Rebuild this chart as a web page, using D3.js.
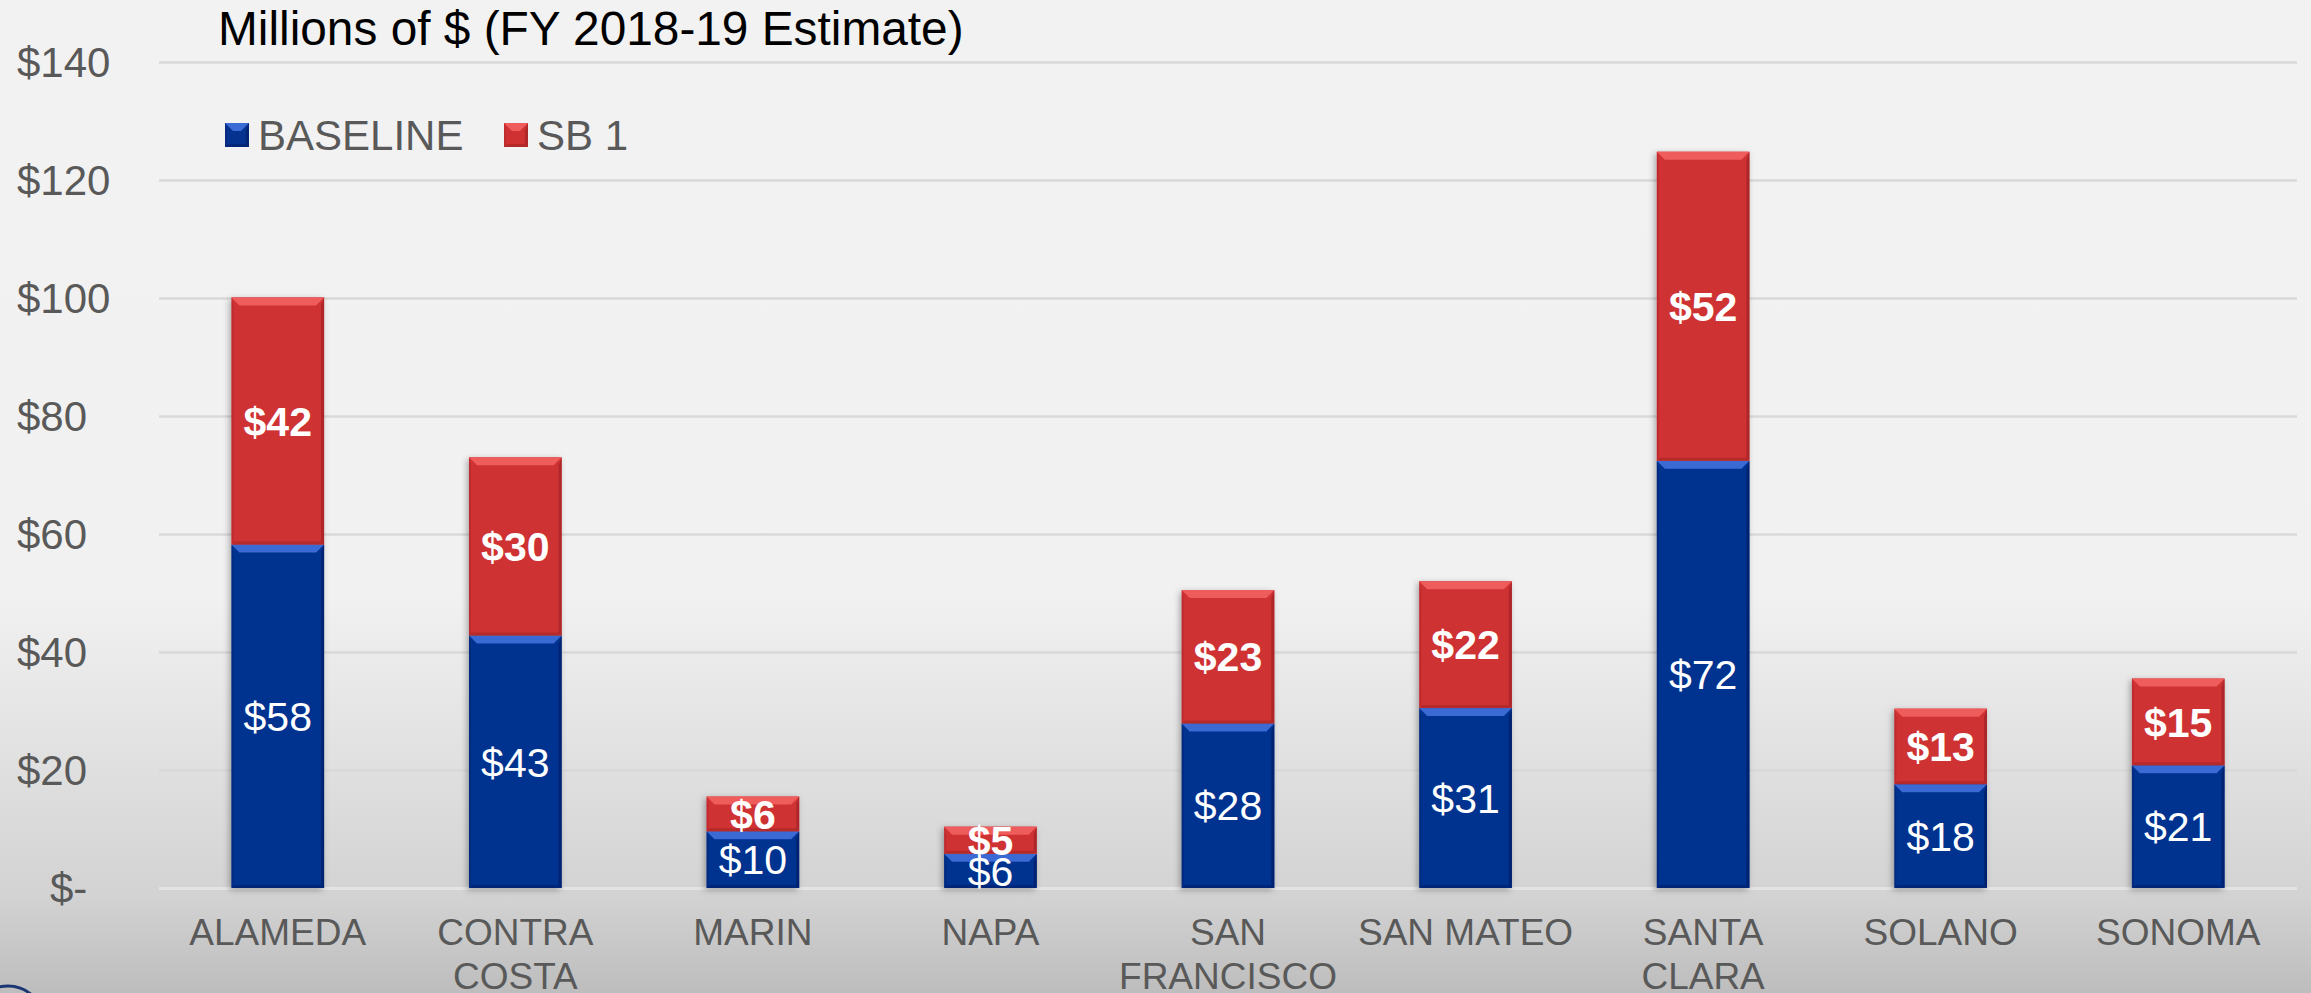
<!DOCTYPE html>
<html>
<head>
<meta charset="utf-8">
<script src="https://cdn.jsdelivr.net/npm/d3@7"></script>
<style>
  html, body { margin: 0; padding: 0; overflow: hidden; }
  svg { display: block; }
</style>
</head>
<body>
<svg id="chart" width="2311" height="993"></svg>
<script>
// ---- data ----
const categories = ["ALAMEDA", "CONTRA COSTA", "MARIN", "NAPA", "SAN FRANCISCO", "SAN MATEO", "SANTA CLARA", "SOLANO", "SONOMA"];
const categoryLines = [["ALAMEDA"], ["CONTRA", "COSTA"], ["MARIN"], ["NAPA"], ["SAN", "FRANCISCO"], ["SAN MATEO"], ["SANTA", "CLARA"], ["SOLANO"], ["SONOMA"]];
const baseline = [58.2, 42.8, 9.6, 5.8, 27.9, 30.5, 72.4, 17.6, 20.8];
const sb1 = [41.9, 30.2, 5.9, 4.6, 22.6, 21.5, 52.4, 12.8, 14.7];
const seriesNames = ["BASELINE", "SB 1"];
const yTicks = [0, 20, 40, 60, 80, 100, 120, 140];
const titleText = "Millions of $ (FY 2018-19 Estimate)";

const W = 2311, H = 993;
const svg = d3.select("#chart");
const FONT = "'Liberation Sans', Arial, sans-serif";

// ---- defs ----
const defs = svg.append("defs");
const bg = defs.append("linearGradient").attr("id", "bg").attr("x1", 0).attr("y1", 0).attr("x2", 0).attr("y2", 1);
bg.append("stop").attr("offset", "0").attr("stop-color", "#f2f2f2");
bg.append("stop").attr("offset", "0.6").attr("stop-color", "#f1f1f1");
bg.append("stop").attr("offset", "0.9").attr("stop-color", "#d3d3d3");
bg.append("stop").attr("offset", "1").attr("stop-color", "#bdbdbd");
const f = defs.append("filter").attr("id", "shadow").attr("x", "-30%").attr("y", "-10%").attr("width", "160%").attr("height", "130%");
f.append("feDropShadow").attr("dx", -2).attr("dy", 2).attr("stdDeviation", 3).attr("flood-color", "#000").attr("flood-opacity", 0.3);

svg.append("rect").attr("width", W).attr("height", H).attr("fill", "url(#bg)");

// ---- scales ----
const x = d3.scaleBand().domain(categories).range([159, 2297]).paddingInner(0.61).paddingOuter(0.305);
const y = d3.scaleLinear().domain([0, 140]).range([888, 62]);

// ---- gridlines ----
const grid = svg.append("g").attr("transform", "translate(159,0)")
  .call(d3.axisLeft(y).tickValues(yTicks).tickSize(-(2297 - 159)).tickFormat(""));
grid.select(".domain").remove();
grid.selectAll(".tick line").attr("stroke", d => d === 0 ? "#e4e4e4" : "#d9d9d9").attr("stroke-width", d => d === 0 ? 3 : 2.5);

// ---- y tick labels ----
svg.append("g").selectAll("text").data(yTicks).join("text")
  .attr("x", d => d === 0 ? 50 : 17)
  .attr("y", d => y(d))
  .attr("dy", "0.36em")
  .attr("font-family", FONT).attr("font-size", 42).attr("fill", "#595959")
  .text(d => d === 0 ? "$-" : "$" + d);

// ---- stacked data ----
const rows = categories.map((c, i) => ({ cat: c, BASELINE: baseline[i], "SB 1": sb1[i] }));
const stack = d3.stack().keys(seriesNames)(rows);
const palette = {
  "BASELINE": { main: "#05318f", hi: "#3a6ad4", dark: "#03226a" },
  "SB 1": { main: "#cf3133", hi: "#ef5c5c", dark: "#a52527" }
};

function bevel(g, x0, y0, w, h, col) {
  g.append("rect").attr("x", x0).attr("y", y0).attr("width", w).attr("height", h).attr("fill", col.main);
  const b = Math.min(8, h / 3);
  g.append("path").attr("d", `M${x0},${y0}L${x0 + w},${y0}L${x0 + w - b},${y0 + b}L${x0 + b},${y0 + b}Z`).attr("fill", col.hi);
  g.append("path").attr("d", `M${x0 + w},${y0}L${x0 + w},${y0 + h}L${x0 + w - 3},${y0 + h - 3}L${x0 + w - 3},${y0 + b}Z`).attr("fill", col.dark).attr("opacity", 0.8);
  g.append("path").attr("d", `M${x0},${y0 + h}L${x0 + w},${y0 + h}L${x0 + w - 3},${y0 + h - 3}L${x0 + 3},${y0 + h - 3}Z`).attr("fill", col.dark).attr("opacity", 0.6);
  g.append("path").attr("d", `M${x0},${y0}L${x0 + 2},${y0 + b}L${x0 + 2},${y0 + h - 2}L${x0},${y0 + h}Z`).attr("fill", col.dark).attr("opacity", 0.4);
}

const barsG = svg.append("g");
categories.forEach((c, i) => {
  const g = barsG.append("g").attr("filter", "url(#shadow)");
  stack.forEach(s => {
    const d = s[i];
    const y0 = y(d[1]), h = y(d[0]) - y(d[1]);
    bevel(g, x(c), y0, x.bandwidth(), h, palette[s.key]);
  });
});

// ---- value labels ----
const labG = svg.append("g");
stack.forEach(s => {
  labG.selectAll(null).data(s).join("text")
    .attr("x", (d, i) => x(categories[i]) + x.bandwidth() / 2)
    .attr("y", d => (y(d[0]) + y(d[1])) / 2)
    .attr("dy", "0.36em")
    .attr("text-anchor", "middle")
    .attr("font-family", FONT).attr("font-size", 41)
    .attr("font-weight", s.key === "SB 1" ? "bold" : "normal")
    .attr("fill", "#ffffff")
    .text(d => "$" + Math.round(d[1] - d[0]));
});

// ---- category labels ----
const catG = svg.append("g");
categories.forEach((c, i) => {
  const t = catG.append("text")
    .attr("x", x(c) + x.bandwidth() / 2)
    .attr("y", 945)
    .attr("text-anchor", "middle")
    .attr("font-family", FONT).attr("font-size", 37).attr("fill", "#595959");
  categoryLines[i].forEach((ln, k) => {
    t.append("tspan").attr("x", x(c) + x.bandwidth() / 2).attr("dy", k === 0 ? 0 : 44).text(ln);
  });
});

// ---- title ----
svg.append("text").attr("x", 218).attr("y", 45)
  .attr("font-family", FONT).attr("font-size", 47.8).attr("fill", "#000")
  .text(titleText);

// ---- legend ----
const legX = [225, 504];
seriesNames.forEach((s, i) => {
  const g = svg.append("g");
  bevel(g, legX[i], 123, 24, 24, palette[s]);
  svg.append("text").attr("x", legX[i] + 33).attr("y", 135).attr("dy", "0.36em")
    .attr("font-family", FONT).attr("font-size", 42).attr("fill", "#595959").text(s);
});

// ---- corner decoration ----
svg.append("circle").attr("cx", 8).attr("cy", 1022).attr("r", 36)
  .attr("fill", "none").attr("stroke", "#1c3573").attr("stroke-width", 3);
</script>
</body>
</html>
